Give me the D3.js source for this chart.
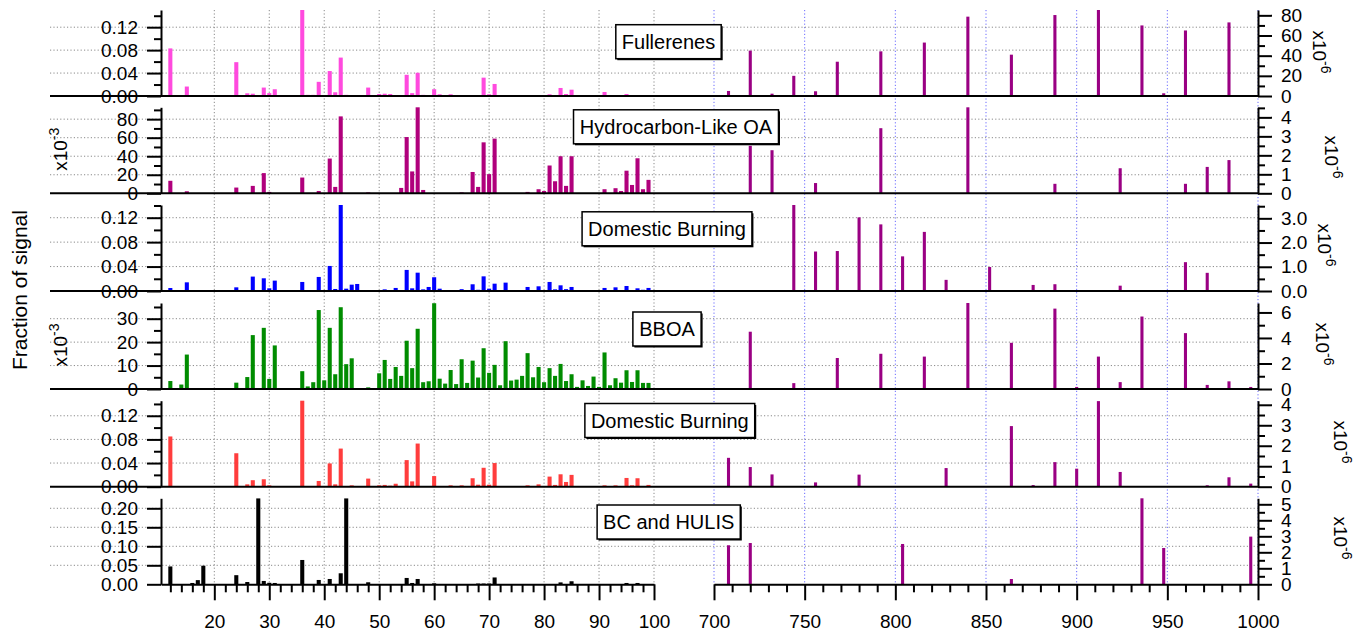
<!DOCTYPE html>
<html>
<head>
<meta charset="utf-8">
<script src="https://cdn.jsdelivr.net/npm/d3@7"></script>
<style>
  body { margin: 0; background: #fff; }
  svg text { font-family: "Liberation Sans", Arial, sans-serif; fill: #000; }
</style>
</head>
<body>
<svg id="chart" width="1368" height="634"></svg>
<script>
// panel titles, top to bottom
const titles = ["Fullerenes", "Hydrocarbon-Like OA", "Domestic Burning", "BBOA", "Domestic Burning", "BC and HULIS"];

// low mass range, m/z 12-100 : [m/z, fraction of signal]  (HOA and BBOA are x10^-3)
const fullerenesLow = [[12,0.083],[15,0.0165],[16,0.001],[17,0.001],[18,0.001],[19,0.001],[24,0.059],[25,0.001],[26,0.0047],[27,0.004],[29,0.0147],[30,0.005],[31,0.0118],[36,0.155],[37,0.002],[38,0.002],[39,0.0247],[41,0.0435],[42,0.0065],[43,0.067],[44,0.002],[45,0.001],[46,0.001],[48,0.0147],[50,0.0035],[51,0.004],[52,0.0035],[55,0.037],[56,0.005],[57,0.0405],[58,0.002],[60,0.0118],[61,0.003],[63,0.003],[67,0.001],[69,0.032],[70,0.003],[71,0.021],[81,0.003],[83,0.014],[84,0.0035],[85,0.011],[91,0.007],[95,0.0035]];
const hoaLow = [[12,13.5],[15,2.2],[24,6.2],[27,8],[29,21.8],[30,1.5],[36,17],[39,2.5],[41,37.5],[42,6.9],[43,83],[48,1],[54,5.8],[55,60.7],[56,23.6],[57,93],[58,3.6],[65,1],[67,23],[68,6.9],[69,55],[70,20.7],[71,59],[77,1.5],[79,4.4],[80,2.5],[81,30],[82,13],[83,40],[84,8],[85,40],[91,4.4],[93,5.5],[94,2.5],[95,24.4],[96,9],[97,37.8],[98,4.4],[99,14.5]];
const domesticLow = [[12,0.0049],[15,0.0142],[24,0.006],[26,0.0016],[27,0.0236],[29,0.0208],[30,0.0044],[31,0.017],[36,0.0148],[38,0.0016],[39,0.023],[41,0.041],[42,0.0033],[43,0.141],[44,0.0038],[45,0.0104],[46,0.0115],[48,0.001],[51,0.0027],[53,0.005],[55,0.0345],[56,0.0044],[57,0.030],[58,0.0027],[59,0.0066],[60,0.0225],[61,0.0038],[63,0.0016],[65,0.003],[67,0.011],[68,0.002],[69,0.024],[70,0.0038],[71,0.012],[73,0.0137],[74,0.0016],[77,0.0066],[79,0.0077],[81,0.0148],[82,0.0027],[83,0.0093],[84,0.003],[85,0.0066],[87,0.0016],[89,0.001],[91,0.005],[93,0.006],[95,0.0082],[97,0.0044],[98,0.002],[99,0.005]];
const bboaLow = [[12,3.4],[13,0.3],[14,1.9],[15,14.7],[16,0.1],[24,2.7],[25,0.3],[26,5.1],[27,23],[29,26.1],[30,4.3],[31,18.6],[36,7.6],[37,1.1],[38,2.9],[39,33.7],[40,3.7],[41,26.1],[42,6.3],[43,34.9],[44,10.6],[45,13.1],[46,0.3],[48,0.7],[49,0.3],[50,6.7],[51,12.4],[52,4.3],[53,9.4],[54,5.6],[55,20.6],[56,8.9],[57,25.7],[58,2.9],[59,3.3],[60,36.6],[61,4.4],[62,2.3],[63,8.1],[64,2.1],[65,12.7],[66,2.6],[67,12.1],[68,4.9],[69,17.4],[70,6.9],[71,10.3],[72,1.6],[73,20.4],[74,3.6],[75,4],[76,5.6],[77,15.3],[78,5],[79,9.4],[80,2.9],[81,8.9],[82,5.6],[83,10.7],[84,3.4],[85,6.3],[86,0.9],[87,3.7],[88,1.3],[89,5.3],[90,0.9],[91,15.6],[92,1.6],[93,4.6],[94,2.7],[95,8],[96,3],[97,8],[98,2.6],[99,2.6]];
const domestic2Low = [[12,0.085],[24,0.0566],[26,0.004],[27,0.011],[29,0.0126],[30,0.0023],[36,0.147],[39,0.0097],[41,0.0394],[42,0.004],[43,0.0645],[44,0.001],[45,0.0023],[48,0.0137],[50,0.0023],[51,0.003],[52,0.0017],[53,0.005],[55,0.045],[56,0.009],[57,0.073],[58,0.001],[60,0.018],[63,0.0023],[65,0.0023],[67,0.0143],[68,0.0034],[69,0.032],[70,0.0034],[71,0.04],[77,0.0023],[79,0.004],[81,0.0171],[82,0.003],[83,0.021],[84,0.008],[85,0.02],[87,0.001],[91,0.0023],[93,0.0023],[95,0.0148],[96,0.0023],[97,0.0143],[99,0.003]];
const bcLow = [[12,0.047],[16,0.0035],[17,0.011],[18,0.049],[24,0.024],[26,0.006],[28,0.226],[29,0.0088],[30,0.004],[31,0.0035],[36,0.064],[39,0.0114],[41,0.014],[43,0.029],[44,0.226],[48,0.0053],[55,0.0167],[56,0.0035],[57,0.014],[60,0.0026],[68,0.002],[69,0.002],[70,0.002],[71,0.018],[83,0.005],[85,0.008],[95,0.0035],[97,0.0035]];

// high mass range, m/z 700-1000 : [m/z, x10^-6]
const fullerenesHigh = [[708,5],[720,45],[732,2.3],[744,20],[756,4.7],[768,34],[780,0.7],[792,44.3],[804,0.7],[816,53],[840,78.7],[852,0.7],[864,41],[888,80.3],[912,85.3],[936,70],[948,2.7],[960,65],[984,73]];
const hoaHigh = [[720,2.5],[732,2.27],[756,0.54],[792,3.43],[840,4.53],[888,0.5],[924,1.32],[960,0.5],[972,1.39],[984,1.75]];
const domesticHigh = [[744,3.55],[756,1.63],[768,1.65],[780,3.04],[792,2.75],[804,1.43],[816,2.44],[828,0.46],[852,0.99],[876,0.25],[888,0.28],[924,0.22],[960,1.19],[972,0.75]];
const bboaHigh = [[720,4.49],[744,0.46],[768,2.43],[792,2.76],[816,2.54],[840,6.74],[864,3.62],[888,6.3],[900,0.16],[912,2.54],[924,0.54],[936,5.68],[960,4.38],[972,0.32],[984,0.6],[996,0.16]];
const domestic2High = [[708,1.41],[720,0.96],[732,0.6],[756,0.21],[780,0.59],[828,0.91],[864,2.96],[876,0.08],[888,1.2],[900,0.88],[912,4.18],[924,0.72],[972,0.07],[984,0.46],[996,0.15]];
const bcHigh = [[708,2.44],[720,2.58],[804,2.52],[864,0.33],[936,5.375],[948,2.27],[996,2.98]];

// axis ranges and ticks of each panel
const lowMax = [0.15, 92.8, 0.1408, 36.7, 0.1455, 0.2263];
const lowStep = [0.04, 20, 0.04, 10, 0.04, 0.05];
const lowMinorStep = [0.02, 10, 0.02, 5, 0.02, 0];
const lowFormat = [".2f", "d", ".2f", "d", ".2f", ".2f"];
const highMax = [85.3, 4.53, 3.55, 6.74, 4.2, 5.375];
const highStep = [20, 1, 1, 2, 1, 1];
const highMinorStep = [10, 0.5, 0.5, 1, 0.5, 0.5];
const highFormat = ["d", "d", ".1f", "d", "d", "d"];
const lowTicksX = [20, 30, 40, 50, 60, 70, 80, 90, 100];
const highTicksX = [700, 750, 800, 850, 900, 950, 1000];

const lowSeries = [fullerenesLow, hoaLow, domesticLow, bboaLow, domestic2Low, bcLow];
const highSeries = [fullerenesHigh, hoaHigh, domesticHigh, bboaHigh, domestic2High, bcHigh];

// styles / layout
const lowColors = ["#ff4ade", "#b0007c", "#0000ff", "#008c00", "#ff3d3d", "#000000"];
const highColor = "#9a0083";
const panelBase = [96, 193.3, 291, 389, 486.7, 584.3];
const panelH = 86;
const boxCenter = [[668.5, 41.7], [676, 126.8], [667, 228.8], [667, 329], [669.8, 420.5], [668.7, 522]];
const rightExpPos = [[1313, 52], [1325, 157], [1318, 245], [1316, 344], [1334, 442], [1334, 538]];
const gridLeft = 50;

const svg = d3.select("#chart");

const xLow = d3.scaleLinear().domain([10.3, 100]).range([161, 654]);
const xHigh = d3.scaleLinear().domain([700, 1000]).range([714, 1258]);
const plotTop = panelBase[0] - panelH;
const plotBottom = panelBase[5];

const gGrid = svg.append("g");
const gBars = svg.append("g");
const gAxes = svg.append("g");
const gText = svg.append("g");

// vertical grid lines, through all the panels
gGrid.selectAll("line.vlow")
    .data(lowTicksX)
    .join("line")
    .attr("x1", d => xLow(d)).attr("x2", d => xLow(d))
    .attr("y1", plotTop).attr("y2", plotBottom)
    .attr("stroke", "#8a8a8a").attr("stroke-width", 1)
    .attr("stroke-dasharray", "1.2,2.2");

gGrid.selectAll("line.vhigh")
    .data(highTicksX)
    .join("line")
    .attr("x1", d => xHigh(d)).attr("x2", d => xHigh(d))
    .attr("y1", plotTop).attr("y2", plotBottom)
    .attr("stroke", "#6a6aff").attr("stroke-width", 1)
    .attr("stroke-dasharray", "1.2,2.2");

function ticksOf(max, step) {
    if (!step) return [];
    return d3.range(0, max + step * 1e-6, step);
}

titles.forEach((title, i) => {
    const base = panelBase[i];
    const yLow = d3.scaleLinear().domain([0, lowMax[i]]).range([base, base - panelH]);
    const yHigh = d3.scaleLinear().domain([0, highMax[i]]).range([base, base - panelH]);

    const major = ticksOf(lowMax[i], lowStep[i]);
    const minor = ticksOf(lowMax[i], lowMinorStep[i]).filter(v => !major.some(m => Math.abs(m - v) < 1e-9));
    const hMajor = ticksOf(highMax[i], highStep[i]);
    const hMinor = ticksOf(highMax[i], highMinorStep[i]).filter(v => !hMajor.some(m => Math.abs(m - v) < 1e-9));

    // horizontal grid lines (they run into the label area, like the original)
    gGrid.append("g").selectAll("line")
        .data(major.filter(v => v > 0))
        .join("line")
        .attr("x1", gridLeft).attr("x2", xHigh(1000))
        .attr("y1", d => yLow(d)).attr("y2", d => yLow(d))
        .attr("stroke", "#8a8a8a").attr("stroke-width", 1)
        .attr("stroke-dasharray", "1.2,2.2");

    // low mass bars
    gBars.append("g").selectAll("rect")
        .data(lowSeries[i])
        .join("rect")
        .attr("x", d => xLow(d[0] - 0.37))
        .attr("width", d => xLow(d[0] + 0.37) - xLow(d[0] - 0.37))
        .attr("y", d => yLow(Math.min(d[1], lowMax[i])))
        .attr("height", d => base - yLow(Math.min(d[1], lowMax[i])))
        .attr("fill", lowColors[i]);

    // high mass bars
    gBars.append("g").selectAll("rect")
        .data(highSeries[i])
        .join("rect")
        .attr("x", d => xHigh(d[0] - 0.85))
        .attr("width", d => xHigh(d[0] + 0.85) - xHigh(d[0] - 0.85))
        .attr("y", d => yHigh(Math.min(d[1], highMax[i])))
        .attr("height", d => base - yHigh(Math.min(d[1], highMax[i])))
        .attr("fill", highColor);

    // zero line
    if (i < 5) {
        gAxes.append("line")
            .attr("x1", gridLeft).attr("x2", xHigh(1000))
            .attr("y1", base).attr("y2", base)
            .attr("stroke", "#000").attr("stroke-width", 2);
    }

    // left axis
    gAxes.append("g").attr("transform", "translate(161,0)")
        .call(d3.axisLeft(yLow).tickValues(major).tickSize(14).tickSizeOuter(0).tickPadding(9)
            .tickFormat(d3.format(lowFormat[i])));
    gAxes.append("g").attr("transform", "translate(161,0)")
        .call(d3.axisLeft(yLow).tickValues(minor).tickSize(7).tickSizeOuter(0).tickFormat(""))
        .select(".domain").remove();

    // right axis
    gAxes.append("g").attr("transform", "translate(" + xHigh(1000) + ",0)")
        .call(d3.axisRight(yHigh).tickValues(hMajor).tickSize(14).tickSizeOuter(0).tickPadding(9)
            .tickFormat(d3.format(highFormat[i])));
    gAxes.append("g").attr("transform", "translate(" + xHigh(1000) + ",0)")
        .call(d3.axisRight(yHigh).tickValues(hMinor).tickSize(7).tickSizeOuter(0).tickFormat(""))
        .select(".domain").remove();

    // multiplier labels
    if (lowFormat[i] === "d") {
        const cy = base - panelH / 2 - 1;
        const t = gText.append("text")
            .attr("x", 67).attr("y", cy)
            .attr("transform", "rotate(-90,67," + cy + ")")
            .attr("text-anchor", "middle")
            .attr("font-size", 19);
        t.append("tspan").text("x10");
        t.append("tspan").attr("dy", -8).attr("font-size", 14).text("-3");
    }
    const rp = rightExpPos[i];
    const rt = gText.append("text")
        .attr("x", rp[0]).attr("y", rp[1])
        .attr("transform", "rotate(90," + rp[0] + "," + rp[1] + ")")
        .attr("text-anchor", "middle")
        .attr("font-size", 19);
    rt.append("tspan").text("x10");
    rt.append("tspan").attr("dy", -8).attr("font-size", 14).text("-6");

    // title box
    const bx = gText.append("g");
    const label = bx.append("text")
        .attr("x", boxCenter[i][0]).attr("y", boxCenter[i][1])
        .attr("dy", "0.36em")
        .attr("text-anchor", "middle")
        .attr("font-size", 20)
        .text(title);
    const bb = label.node().getBBox();
    const w = bb.width + 12, h = 34;
    bx.insert("rect", "text")
        .attr("x", boxCenter[i][0] - w / 2 + 1.5).attr("y", boxCenter[i][1] - h / 2 + 1.5)
        .attr("width", w).attr("height", h)
        .attr("fill", "#000");
    bx.insert("rect", "text")
        .attr("x", boxCenter[i][0] - w / 2).attr("y", boxCenter[i][1] - h / 2)
        .attr("width", w).attr("height", h)
        .attr("fill", "#fff").attr("stroke", "#000").attr("stroke-width", 1.5);
});

// bottom axes
const bottom = panelBase[5];
function styleBottom(g) {
    g.attr("transform", "translate(0," + bottom + ")");
}
gAxes.append("g").call(styleBottom)
    .call(d3.axisBottom(xLow).tickValues(lowTicksX).tickSize(16).tickSizeOuter(0).tickPadding(14)
        .tickFormat(d3.format("d")));
gAxes.append("g").call(styleBottom)
    .call(d3.axisBottom(xLow).tickValues(d3.range(12, 100, 2).filter(v => v % 10)).tickSize(8).tickSizeOuter(0).tickFormat(""))
    .select(".domain").remove();
gAxes.append("g").call(styleBottom)
    .call(d3.axisBottom(xHigh).tickValues(highTicksX).tickSize(16).tickSizeOuter(0).tickPadding(14)
        .tickFormat(d3.format("d")));
gAxes.append("g").call(styleBottom)
    .call(d3.axisBottom(xHigh).tickValues(d3.range(710, 1000, 10).filter(v => v % 50)).tickSize(8).tickSizeOuter(0).tickFormat(""))
    .select(".domain").remove();

// common axis styling
gAxes.selectAll(".domain").attr("stroke", "#000").attr("stroke-width", 2);
gAxes.selectAll(".tick line").attr("stroke", "#000").attr("stroke-width", 2);
gAxes.selectAll(".tick text")
    .attr("font-size", 19)
    .attr("font-family", "'Liberation Sans', Arial, sans-serif")
    .attr("fill", "#000");
gAxes.selectAll("g").attr("font-size", null).attr("font-family", null);

// y title
svg.append("text")
    .attr("x", 27).attr("y", 290)
    .attr("transform", "rotate(-90,27,290)")
    .attr("text-anchor", "middle")
    .attr("font-size", 21)
    .text("Fraction of signal");
</script>
</body>
</html>
